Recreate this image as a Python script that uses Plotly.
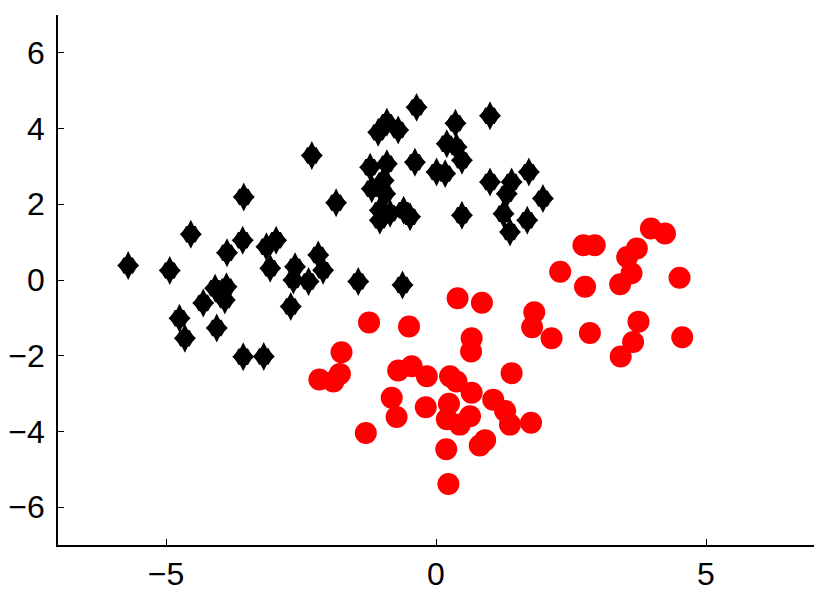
import plotly.graph_objects as go

# Class 1 (black diamonds)
black_x = [-5.70, -4.93, -4.54, -3.56, -3.58, -3.87, -3.14, -2.96, -3.07, -2.61,
           -2.64, -2.36, -2.18, -2.09, -2.69, -4.09, -3.88, -3.91, -4.31, -4.06,
           -4.75, -4.65, -3.57, -3.19, -1.44, -0.62, -2.30, -1.85,
           -0.36, -0.91, -1.07, -0.70, 0.36, 1.00, 0.20, 0.38, 0.48, 0.01,
           0.17, -0.39, -1.22, -0.91, -1.19, -0.97, -0.94, -1.04, -1.04, -0.85,
           -0.60, -0.48, 0.48, 1.00, 1.40, 1.31, 1.72, 1.98, 1.25, 1.37, 1.69]
black_y = [0.38, 0.25, 1.21, 2.19, 1.05, 0.72, 0.88, 1.05, 0.31, 0.35,
           0.00, -0.04, 0.66, 0.26, -0.70, -0.22, -0.18, -0.53, -0.61, -1.27,
           -1.01, -1.54, -2.03, -2.02, -0.04, -0.13, 3.29, 2.04,
           4.56, 4.17, 3.90, 3.96, 4.14, 4.34, 3.60, 3.51, 3.16, 2.85,
           2.81, 3.11, 2.98, 3.07, 2.41, 2.63, 2.28, 1.84, 1.58, 1.76,
           1.84, 1.67, 1.71, 2.59, 2.59, 2.28, 2.85, 2.15, 1.75, 1.27, 1.58]

# Class 2 (red circles)
red_x = [0.40, 0.85, -1.24, -0.50, 1.82, 1.78, 0.66, 0.65, -1.75, -2.16,
         -1.90, -1.78, -0.70, -0.45, -0.17, 0.26, 0.38, 1.40, 0.66, -0.82,
         -0.19, 0.24, 1.06, -0.73, 0.20, 0.44, 0.63, 1.28, 1.37, 1.76,
         -1.30, 0.91, 0.81, 0.19, 0.23,
         3.98, 4.24, 2.73, 2.94, 3.72, 3.54, 3.62, 3.41, 2.30, 2.76,
         4.51, 2.14, 2.85, 3.75, 3.65, 3.42, 4.56]
red_y = [-0.48, -0.60, -1.12, -1.23, -0.85, -1.25, -1.54, -1.89, -1.91, -2.63,
         -2.68, -2.48, -2.39, -2.28, -2.54, -2.54, -2.68, -2.46, -2.98, -3.11,
         -3.36, -3.27, -3.16, -3.62, -3.68, -3.82, -3.60, -3.46, -3.82, -3.77,
         -4.04, -4.23, -4.37, -4.47, -5.39,
         1.36, 1.23, 0.92, 0.92, 0.83, 0.61, 0.18, -0.11, 0.22, -0.18,
         0.06, -1.54, -1.40, -1.10, -1.64, -2.02, -1.51]

x_ticks = [-5, 0, 5]
y_ticks = [-6, -4, -2, 0, 2, 4, 6]

fig = go.Figure()
# the tall MATLAB-style diamond is built from three overlapping plotly symbols
for sym, sz, show_hover in [("diamond", 16.9, False), ("hexagon2", 19, False), ("diamond-tall", 20.7, True)]:
    fig.add_trace(go.Scatter(x=black_x, y=black_y, mode="markers",
                             marker=dict(symbol=sym, size=sz, color="black", line=dict(width=0)),
                             showlegend=False, hoverinfo="x+y" if show_hover else "skip"))
fig.add_trace(go.Scatter(x=red_x, y=red_y, mode="markers",
                         marker=dict(symbol="circle", size=22, color="#ff0000", line=dict(width=0)),
                         showlegend=False))

axis_common = dict(showgrid=False, zeroline=False, showline=True, linecolor="black",
                   linewidth=1.5, ticks="inside", ticklen=6, tickwidth=1.2, tickcolor="black",
                   tickfont=dict(family="Liberation Sans, Arial, sans-serif", size=32, color="black"),
                   mirror=False, automargin=False)
fig.update_xaxes(range=[-7, 7], tickvals=x_ticks, ticklabelstandoff=0, **axis_common)
fig.update_yaxes(range=[-7, 7], tickvals=y_ticks, ticklabelstandoff=5, **axis_common)

# page body adds an 8px offset, so the figure is sized to the visible window minus it
fig.update_layout(width=822, height=585, plot_bgcolor="white", paper_bgcolor="white",
                  margin=dict(l=50, r=16, t=7, b=48))
fig.write_html("out.html")
